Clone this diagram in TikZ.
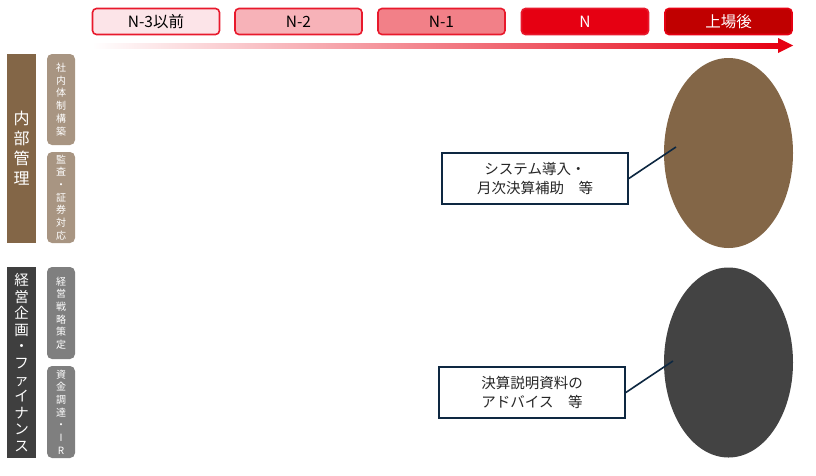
\documentclass[tikz,border=0pt]{standalone}
\usepackage{fontspec}
\setmainfont{Noto Sans CJK JP}
\usetikzlibrary{shapes.geometric}
\definecolor{pk1}{HTML}{FCE4E8}
\definecolor{pk2}{HTML}{F7B2B8}
\definecolor{pk3}{HTML}{F28088}
\definecolor{rd}{HTML}{E60012}
\definecolor{drd}{HTML}{C00000}
\definecolor{edge}{HTML}{E8192C}
\definecolor{brn}{HTML}{836647}
\definecolor{lbrn}{HTML}{A89582}
\definecolor{dgr}{HTML}{3F3F3F}
\definecolor{mgr}{HTML}{7F7F7F}
\definecolor{navy}{HTML}{0E2841}
\definecolor{txt}{HTML}{262626}
\tikzset{
  phase/.style={draw=edge, line width=1.6pt, rounded corners=4pt, minimum width=127pt, minimum height=26pt, inner sep=0pt, font=\fontsize{15.5}{18}\selectfont},
  mainbar/.style={minimum width=29pt, inner sep=0pt, text=white, align=center},
  subbar/.style={rounded corners=5pt, minimum width=28pt, inner sep=0pt, text=white, align=center, font=\fontsize{10}{12.7}\selectfont},
  note/.style={draw=navy, line width=1.6pt, fill=white, minimum width=186pt, minimum height=51pt, inner sep=0pt, align=center, text=txt, font=\fontsize{14.5}{19}\selectfont},
  blob/.style={ellipse, minimum width=129pt, inner sep=0pt},
  link/.style={draw=navy, line width=1.6pt}
}
\begin{document}
\begin{tikzpicture}[x=1pt,y=-1pt]
\useasboundingbox (0,0) rectangle (816,475);
% header phases
\node[phase, fill=pk1] (p1) at (156,21.5) {N-3以前};
\node[phase, fill=pk2] (p2) at (298.5,21.5) {N-2};
\node[phase, fill=pk3] (p3) at (441.5,21.5) {N-1};
\node[phase, fill=rd, text=white] (p4) at (585,21.5) {N};
\node[phase, draw=rd, fill=drd, text=white] (p5) at (728.5,21.5) {上場後};
% timeline arrow
\shade[left color=white, right color=rd] (92,43) rectangle (779,48);
\fill[rd] (778,38) -- (793,45.5) -- (778,53) -- cycle;
% left bars
\node[mainbar, fill=brn, minimum height=189pt, font=\fontsize{16}{20}\selectfont] (m1) at (21.5,148.5) {内\\部\\管\\理};
\node[subbar, fill=lbrn, minimum height=91pt] (s1) at (61,99.5) {社\\内\\体\\制\\構\\築};
\node[subbar, fill=lbrn, minimum height=91pt] (s2) at (61,197.5) {監\\査\\・\\証\\券\\対\\応};
\node[mainbar, fill=dgr, minimum height=191pt, font=\fontsize{14.5}{16.6}\selectfont] (m2) at (21.5,362.5) {経\\営\\企\\画\\・\\フ\\ァ\\イ\\ナ\\ン\\ス};
\node[subbar, fill=mgr, minimum height=92pt] (s3) at (61,313) {経\\営\\戦\\略\\策\\定};
\node[subbar, fill=mgr, minimum height=92pt] (s4) at (61,412) {資\\金\\調\\達\\・\\I\\R};
% ellipses
\node[blob, fill=brn, minimum height=190pt] (e1) at (728.5,153) {};
\node[blob, fill=dgr!98, minimum height=190pt] (e2) at (728.5,362.5) {};
\coordinate (e1p) at (676,147);
\coordinate (e2p) at (673,361);
% notes
\node[note] (n1) at (535,178.5) {システム導入・\\月次決算補助　等};
\node[note] (n2) at (532,392.5) {決算説明資料の\\アドバイス　等};
\draw[link] (n1.east) -- (e1p);
\draw[link] (n2.east) -- (e2p);
\end{tikzpicture}
\end{document}
